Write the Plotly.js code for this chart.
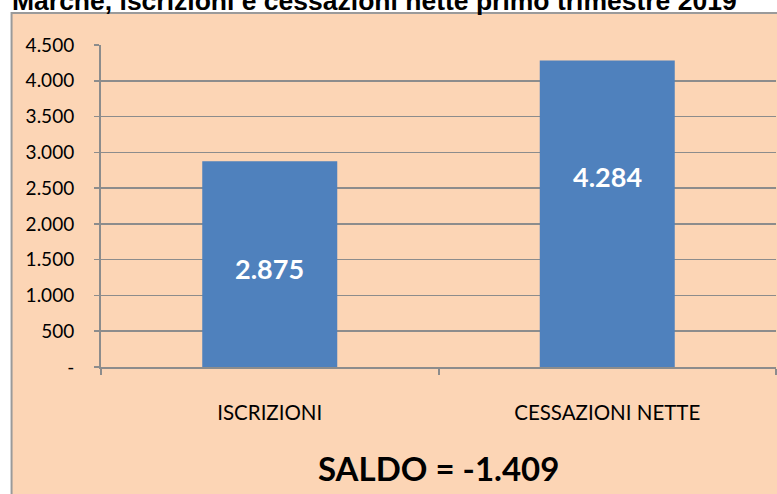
<!DOCTYPE html>
<html>
<head>
<meta charset="utf-8">
<script src="https://cdn.plot.ly/plotly-3.0.1.min.js"></script>
<style>html,body{margin:0;padding:0;background:#fff;}#chart{width:777px;height:494px;}</style>
</head>
<body>
<div id="chart"></div>
<script>
// Data
const categories = ["ISCRIZIONI", "CESSAZIONI NETTE"];
const values = [2875, 4284];
const valueLabels = ["2.875", "4.284"];
const yTickVals = [0, 500, 1000, 1500, 2000, 2500, 3000, 3500, 4000, 4500];
const yTickText = ["-", "500", "1.000", "1.500", "2.000", "2.500", "3.000", "3.500", "4.000", "4.500"];
const titleText = "Marche, iscrizioni e cessazioni nette primo trimestre 2019";
const saldoText = "SALDO = -1.409";

// Style: relative vertical position of the value labels inside each bar
const labelFrac = [0.481, 0.62];

const W = 777, H = 494;
const mL = 100.5, mR = 1, mT = 45, mB = 127;
const pw = W - mL - mR, ph = H - mT - mB;
const px = X => (X - mL) / pw;
const py = Y => (H - mB - Y) / ph;

const trace = {
  type: "bar",
  x: categories,
  y: values,
  marker: {color: "#4F81BD", line: {width: 0}},
  hoverinfo: "none"
};

const annotations = categories.map((c, i) => ({
  x: c, y: values[i] * labelFrac[i], xref: "x", yref: "y",
  text: valueLabels[i], showarrow: false,
  font: {family: "Lato, 'Open Sans', sans-serif", size: 27, color: "#ffffff", weight: "bold"},
  xanchor: "center", yanchor: "middle"
}));

annotations.push({
  x: px(9), y: py(1), xref: "paper", yref: "paper",
  text: "<b>" + titleText + "</b>", showarrow: false,
  font: {family: "'Liberation Sans', Arial, sans-serif", size: 26.5, color: "#000"},
  xanchor: "left", yanchor: "middle"
});
annotations.push({
  x: 0.5, y: py(468), xref: "paper", yref: "paper",
  text: "<b>" + saldoText + "</b>", showarrow: false,
  font: {family: "Lato, 'Open Sans', sans-serif", size: 33, color: "#000"},
  xanchor: "center", yanchor: "middle"
});

const layout = {
  width: W, height: H,
  margin: {l: mL, r: mR, t: mT, b: mB, pad: 0},
  paper_bgcolor: "#ffffff",
  plot_bgcolor: "rgba(0,0,0,0)",
  showlegend: false,
  bargap: 0.6,
  shapes: [{
    type: "rect", xref: "paper", yref: "paper", layer: "below",
    x0: px(11), x1: 1.2, y0: -0.6, y1: py(13),
    fillcolor: "#FCD5B5", line: {color: "#9a9a9a", width: 2}
  }],
  xaxis: {
    type: "category",
    showgrid: false, zeroline: false,
    showline: true, linecolor: "#8c8c8c", linewidth: 2,
    ticks: "outside", tickson: "boundaries", ticklen: 6, tickwidth: 2, tickcolor: "#8c8c8c",
    ticklabelstandoff: 26,
    tickfont: {family: "Lato, 'Open Sans', sans-serif", size: 20.5, color: "#000"},
    fixedrange: true
  },
  yaxis: {
    range: [0, 4500],
    tickvals: yTickVals, ticktext: yTickText,
    showgrid: true, gridcolor: "#8c8c8c", gridwidth: 1.5,
    zeroline: false,
    showline: true, linecolor: "#8c8c8c", linewidth: 2,
    ticks: "outside", ticklen: 5, tickwidth: 1.5, tickcolor: "#8c8c8c",
    ticklabelstandoff: 16,
    tickfont: {family: "Lato, 'Open Sans', sans-serif", size: 19, color: "#000"},
    fixedrange: true
  },
  annotations: annotations
};

Plotly.newPlot("chart", [trace], layout, {displayModeBar: false, staticPlot: true});
</script>
</body>
</html>
